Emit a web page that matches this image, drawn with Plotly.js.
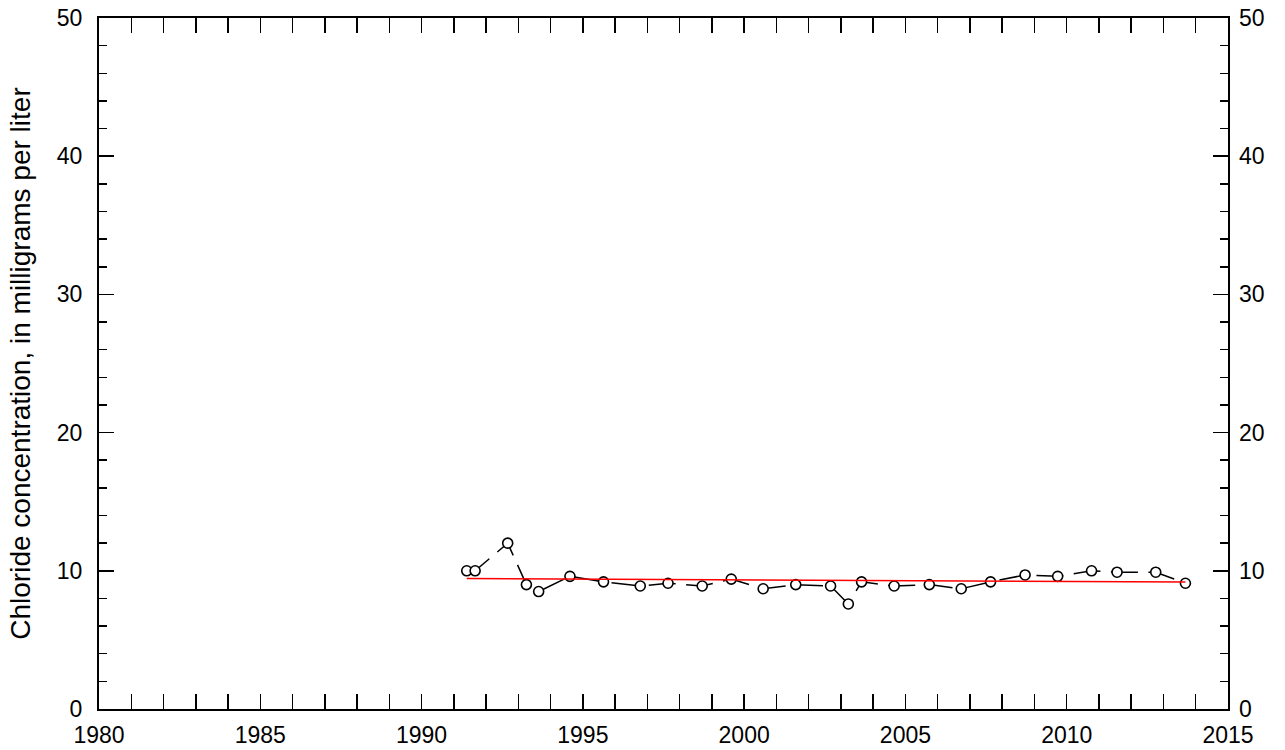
<!DOCTYPE html>
<html><head><meta charset="utf-8">
<script src="https://cdn.plot.ly/plotly-3.0.1.min.js"></script>
<style>html,body{margin:0;padding:0;background:#fff}#chart{width:1285px;height:750px}</style>
</head><body><div id="chart"></div>
<script>
// Sample dates (decimal years) and chloride concentrations (mg/L)
const sampleYears = [1991.40, 1991.66, 1992.67, 1993.25, 1993.63, 1994.60, 1995.64, 1996.78, 1997.64, 1998.70,
  1999.60, 2000.59, 2001.60, 2002.68, 2003.23, 2003.64, 2004.65, 2005.74, 2006.73, 2007.64,
  2008.71, 2009.72, 2010.77, 2011.56, 2012.76, 2013.68];
const chloride = [10.0, 10.0, 12.0, 9.0, 8.5, 9.6, 9.2, 8.9, 9.1, 8.9,
  9.4, 8.7, 9.0, 8.9, 7.6, 9.2, 8.9, 9.0, 8.7, 9.2,
  9.7, 9.6, 10.0, 9.9, 9.9, 9.1];
// Trend line endpoints
const trendYears = [1991.40, 2013.68];
const trendValues = [9.44, 9.19];

const xRange = [1980, 2015];
const yRange = [0, 50];
const yTitle = 'Chloride concentration, in milligrams per liter';

const fontFam = '"Liberation Sans", Arial, Helvetica, sans-serif';
const tickFont = {family: fontFam, size: 23, color: '#000'};

const data = [
  {
    x: trendYears, y: trendValues, type: 'scatter', mode: 'lines',
    line: {color: '#ff0000', width: 1.6}, yaxis: 'y2', hoverinfo: 'skip', showlegend: false
  },
  {
    x: sampleYears, y: chloride, type: 'scatter', mode: 'lines+markers',
    line: {color: '#000', width: 1.5, dash: '27px,10.5px'},
    marker: {symbol: 'circle', size: 10, color: '#fff', line: {color: '#000', width: 1.6}},
    showlegend: false
  }
];

const layout = {
  width: 1285, height: 750,
  margin: {l: 99, r: 57, t: 18, b: 41, pad: 0},
  paper_bgcolor: '#fff', plot_bgcolor: '#fff',
  showlegend: false,
  font: {family: fontFam, color: '#000'},
  xaxis: {
    range: xRange, dtick: 5, tick0: 1980,
    ticks: 'inside', ticklen: 15, tickwidth: 1.5, tickcolor: '#000',
    minor: {dtick: 1, ticks: 'inside', ticklen: 8, tickwidth: 1.5, tickcolor: '#000'},
    showline: true, linecolor: '#000', linewidth: 2, mirror: 'allticks',
    showgrid: false, zeroline: false, tickfont: tickFont, ticklabelstandoff: 4,
    automargin: false
  },
  yaxis: {
    range: yRange, dtick: 10, tick0: 0,
    ticks: 'inside', ticklen: 15, tickwidth: 1.5, tickcolor: '#000',
    minor: {dtick: 2, ticks: 'inside', ticklen: 8, tickwidth: 1.5, tickcolor: '#000'},
    showline: true, linecolor: '#000', linewidth: 2, mirror: 'allticks',
    showgrid: false, zeroline: false, tickfont: tickFont, ticklabelstandoff: 10,
    title: {text: yTitle, font: {family: fontFam, size: 28, color: '#000'}, standoff: 18},
    automargin: false
  },
  yaxis2: {
    range: yRange, dtick: 10, tick0: 0, overlaying: 'y', side: 'right',
    ticks: '', showline: false, showgrid: false, zeroline: false,
    tickfont: tickFont, ticklabelstandoff: 10, automargin: false
  }
};

Plotly.newPlot('chart', data, layout, {displayModeBar: false, staticPlot: true});
</script>
</body></html>
